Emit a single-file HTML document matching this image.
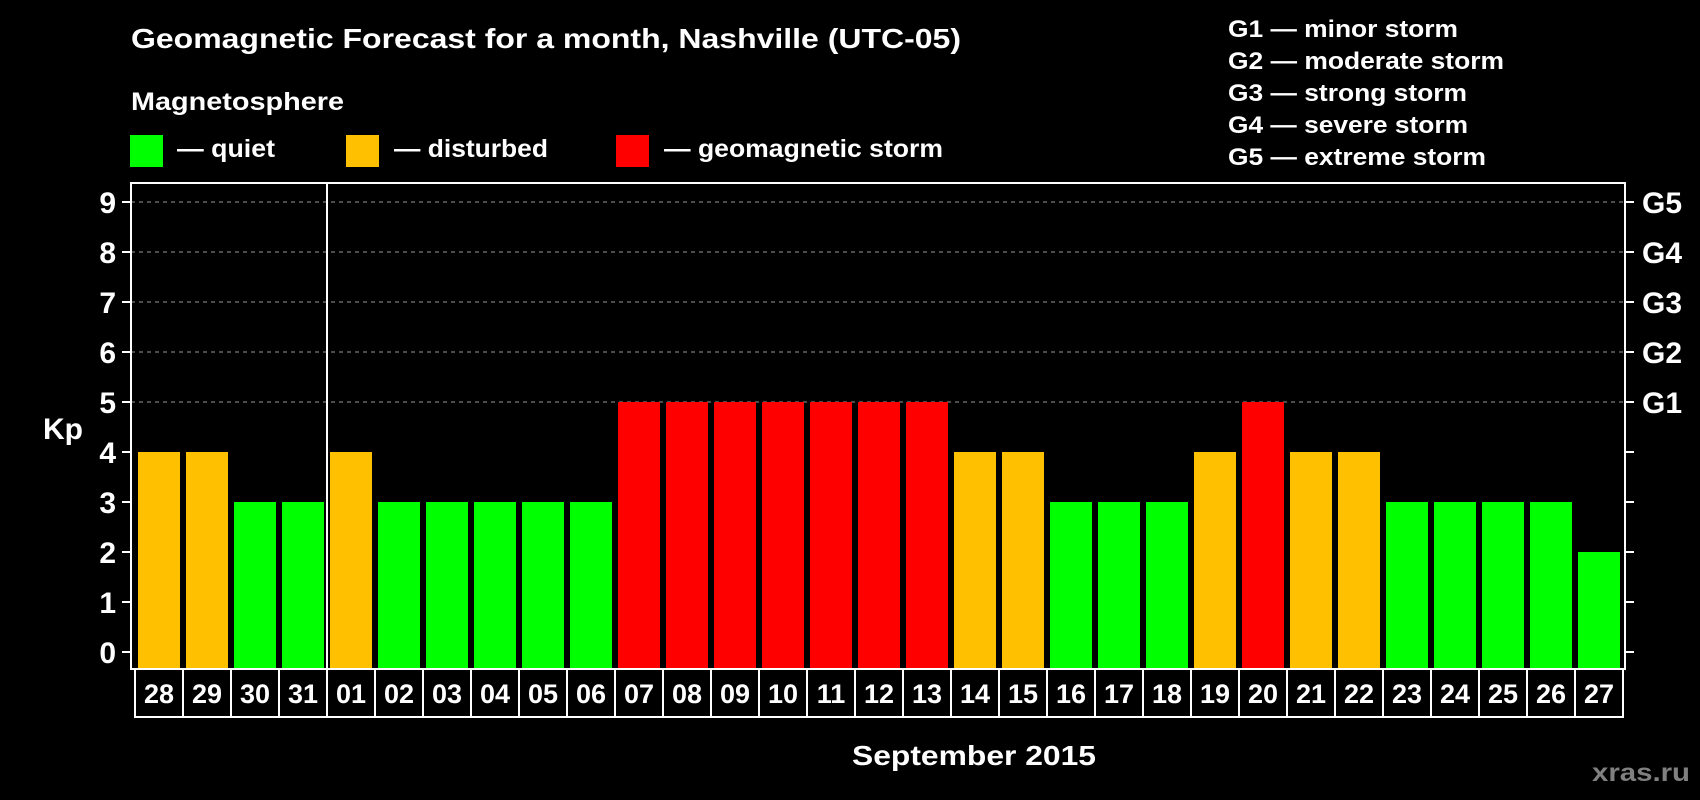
<!DOCTYPE html>
<html><head><meta charset="utf-8"><style>
html,body{margin:0;padding:0;background:#000;}
svg{display:block;font-family:"Liberation Sans",Arial,sans-serif;font-weight:bold;}
</style></head><body>
<svg id="chart" width="1700" height="800" viewBox="0 0 1700 800">
<rect x="0" y="0" width="1700" height="800" fill="#000"/>
<text x="131" y="48" font-size="28" fill="#fff" textLength="830" lengthAdjust="spacingAndGlyphs">Geomagnetic Forecast for a month, Nashville (UTC-05)</text>
<text x="131" y="110" font-size="25" fill="#fff" textLength="213" lengthAdjust="spacingAndGlyphs">Magnetosphere</text>
<g>
<rect x="130" y="135" width="33" height="32" fill="#00ff00"/>
<text x="177" y="157" font-size="25" fill="#fff" textLength="98" lengthAdjust="spacingAndGlyphs">— quiet</text></g>
<g>
<rect x="346" y="135" width="33" height="32" fill="#ffc000"/>
<text x="394" y="157" font-size="25" fill="#fff" textLength="154" lengthAdjust="spacingAndGlyphs">— disturbed</text></g>
<g>
<rect x="616" y="135" width="33" height="32" fill="#ff0000"/>
<text x="664" y="157" font-size="25" fill="#fff" textLength="279" lengthAdjust="spacingAndGlyphs">— geomagnetic storm</text></g>
<g font-size="24" fill="#fff">
<text x="1228" y="37" textLength="230" lengthAdjust="spacingAndGlyphs">G1 — minor storm</text>
<text x="1228" y="69" textLength="276" lengthAdjust="spacingAndGlyphs">G2 — moderate storm</text>
<text x="1228" y="101" textLength="239" lengthAdjust="spacingAndGlyphs">G3 — strong storm</text>
<text x="1228" y="133" textLength="240" lengthAdjust="spacingAndGlyphs">G4 — severe storm</text>
<text x="1228" y="165" textLength="258" lengthAdjust="spacingAndGlyphs">G5 — extreme storm</text>
</g>
<text x="63" y="439" font-size="30" fill="#fff" text-anchor="middle">Kp</text>
<g id="grid"></g><g id="bars"></g><g id="axes"></g><g id="xlabels"></g>
<text x="974" y="765" font-size="28" fill="#fff" text-anchor="middle" textLength="244" lengthAdjust="spacingAndGlyphs">September 2015</text>
<text x="1690" y="781" font-size="25" fill="#808080" text-anchor="end" textLength="98" lengthAdjust="spacingAndGlyphs">xras.ru</text>
</svg>
<script>
const days = ["28","29","30","31","01","02","03","04","05","06","07","08","09","10","11","12","13","14","15","16","17","18","19","20","21","22","23","24","25","26","27"];
const kpValues = [4,4,3,3,4,3,3,3,3,3,5,5,5,5,5,5,5,4,4,3,3,3,4,5,4,4,3,3,3,3,2];
const yTicks = [0,1,2,3,4,5,6,7,8,9];
const gLabels = ["G1","G2","G3","G4","G5"];
const gLevels = [5,6,7,8,9];
const monthBreakIndex = 4;

const NS = "http://www.w3.org/2000/svg";
const L = 131, R = 1625, T = 183, B = 669;
const pitch = (R - L - 6) / days.length;
function xs(i){ return 138 + i * pitch; }
function ys(v){ return 652 - v * 50; }
function mk(tag, attrs, parent){ const e=document.createElementNS(NS,tag); for(const k in attrs) e.setAttribute(k,attrs[k]); parent.appendChild(e); return e; }
function color(v){ return v >= 5 ? "#ff0000" : (v >= 4 ? "#ffc000" : "#00ff00"); }

const grid = document.getElementById("grid");
gLevels.forEach((lv, i) => {
  const ln = mk("line",{x1:L,x2:R,y1:ys(lv),y2:ys(lv),stroke:"#999","stroke-width":1,"stroke-dasharray":"4,4"},grid);
  
  
});

const bars = document.getElementById("bars");
kpValues.forEach((v, i) => {
  const r = mk("rect",{x:xs(i),y:ys(v),width:42,height:B - 1 - ys(v),fill:color(v)},bars);
  
  
});

const axes = document.getElementById("axes");
const frame = mk("rect",{x:L,y:T,width:R-L,height:B-T,fill:"none",stroke:"#fff","stroke-width":2},axes);


const sepX = (xs(monthBreakIndex-1) + 42 + xs(monthBreakIndex)) / 2;
const sep = mk("line",{x1:sepX,x2:sepX,y1:T,y2:B,stroke:"#fff","stroke-width":2},axes);


yTicks.forEach(t => {
  const a = mk("line",{x1:L-9,x2:L,y1:ys(t),y2:ys(t),stroke:"#fff","stroke-width":2},axes);
  
  
  const b = mk("line",{x1:R,x2:R+9,y1:ys(t),y2:ys(t),stroke:"#fff","stroke-width":2},axes);
  
  
  const tx = mk("text",{x:116,y:ys(t)+11,"font-size":30,fill:"#fff","text-anchor":"end"},axes);
  tx.textContent = t;
  
  
});
gLevels.forEach((lv, i) => {
  const tx = mk("text",{x:1642,y:ys(lv)+11,"font-size":30,fill:"#fff"},axes);
  tx.textContent = gLabels[i];
  
  
});

const xl = document.getElementById("xlabels");
days.forEach((d, i) => {
  const bx = 135 + i * pitch;
  const r = mk("rect",{x:bx,y:B,width:pitch,height:717-B,fill:"none",stroke:"#fff","stroke-width":2},xl);
  
  
  const tx = mk("text",{x:bx+pitch/2,y:703,"font-size":27,fill:"#fff","text-anchor":"middle"},xl);
  tx.textContent = d;
  
  
});
</script>
</body></html>
